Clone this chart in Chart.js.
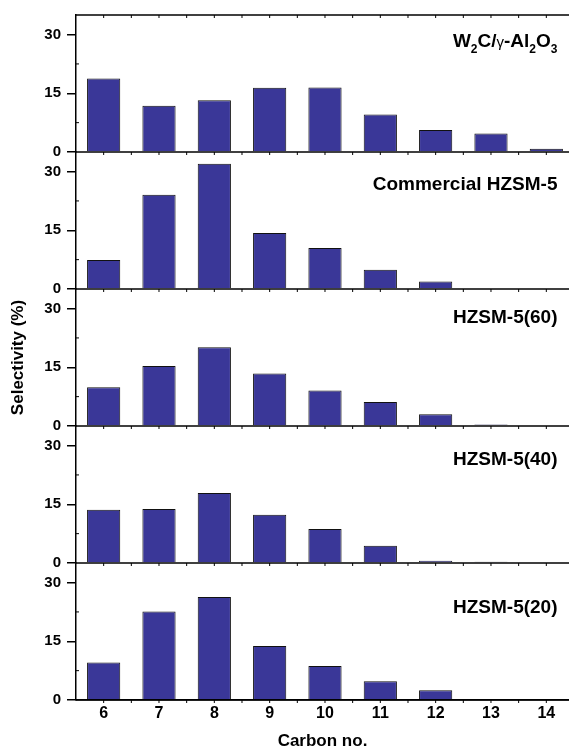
<!DOCTYPE html>
<html>
<head>
<meta charset="utf-8">
<script src="https://cdn.jsdelivr.net/npm/chart.js@4"></script>
<style>
    body { margin: 0; background: #fff; overflow: hidden; }
    #chart { display: block; }
</style>
</head>
<body>
<canvas id="chart" width="569" height="750"></canvas>
<script>
// 数据
const carbonNo = [6, 7, 8, 9, 10, 11, 12, 13, 14];
const yTicks = [0, 15, 30];
const yMinorTicks = [7.5, 22.5];

const panelNames = ['W_2C/γ-Al_2O_3', 'Commercial HZSM-5', 'HZSM-5(60)', 'HZSM-5(40)', 'HZSM-5(20)'];
const w2cAl2o3 = [18.8, 11.8, 13.2, 16.4, 16.5, 9.6, 5.6, 4.7, 0.85];
const commercialHzsm5 = [7.4, 24.1, 32.0, 14.3, 10.5, 4.9, 1.9, 0, 0];
const hzsm5_60 = [9.9, 15.3, 20.1, 13.4, 9.1, 6.1, 3.0, 0.4, 0];
const hzsm5_40 = [13.6, 13.8, 17.9, 12.3, 8.7, 4.4, 0.6, 0.35, 0];
const hzsm5_20 = [9.6, 22.6, 26.3, 13.8, 8.7, 4.8, 2.5, 0, 0];
const panelSeries = [w2cAl2o3, commercialHzsm5, hzsm5_60, hzsm5_40, hzsm5_20];

// 标签的位置（数据单位）
const labelBaseline = [26.8, 25.4, 26.4, 25.0, 22.2];

const FONT = '"Liberation Sans", Arial, sans-serif';
const BAR_COLOR = '#3a3798';

const panelIds = panelSeries.map((s, i) => 'y' + i);

// 每个面板一条 y 轴，叠放在一起（先定义的在下面，所以倒序）
const scales = {};
for (let i = panelIds.length - 1; i >= 0; i--) {
    scales[panelIds[i]] = {
        type: 'linear',
        position: 'left',
        stack: 'panels',
        stackWeight: 1,
        min: 0,
        max: 35,
        border: { color: '#000', width: 1.5 },
        grid: { drawOnChartArea: false, drawTicks: true, tickLength: 9, color: '#000', lineWidth: 1.5 },
        ticks: { stepSize: 15, color: '#000', padding: 6, font: { family: FONT, size: 15, weight: 'bold' } },
        afterBuildTicks: s => { s.ticks = yTicks.map(v => ({ value: v })); },
        afterFit: s => { s.width = 76; },
        title: {
            display: i === 2,
            text: 'Selectivity (%)',
            color: '#000',
            padding: { top: 10, bottom: 0 },
            font: { family: FONT, size: 17, weight: 'bold', lineHeight: 1 }
        }
    };
}
scales.x = {
    type: 'linear',
    position: 'bottom',
    offset: false,
    min: 5.5,
    max: 14.41,
    border: { color: '#000', width: 1.5 },
    grid: { drawOnChartArea: false, drawTicks: false, offset: false },
    ticks: { color: '#000', padding: 4, font: { family: FONT, size: 16, weight: 'bold' } },
    afterBuildTicks: s => { s.ticks = carbonNo.map(v => ({ value: v })); },
    afterFit: s => { s.height = 50; },
    title: {
        display: true,
        text: 'Carbon no.',
        color: '#000',
        padding: { top: 0, bottom: 0 },
        font: { family: FONT, size: 17, weight: 'bold', lineHeight: 1 }
    }
};

// 画框线、小刻度和面板标签
const panelFrame = {
    id: 'panelFrame',
    afterDatasetsDraw(chart) {
        const { ctx, chartArea: a } = chart;
        const xs = chart.scales.x;
        const halfSteps = [];
        for (let v = 6; v <= 14.4; v += 0.5) halfSteps.push(v);

        ctx.save();
        ctx.strokeStyle = '#000';
        ctx.lineWidth = 1.5;
        const line = (x1, y1, x2, y2) => {
            ctx.beginPath();
            ctx.moveTo(x1, y1);
            ctx.lineTo(x2, y2);
            ctx.stroke();
        };

        // 顶部边框
        const top = chart.scales[panelIds[0]].getPixelForValue(35);
        line(a.left - 0.75, top, a.right, top);
        ctx.lineWidth = 1;
        halfSteps.forEach(v => {
            const px = xs.getPixelForValue(v);
            line(px, top, px, top + 3);
        });

        panelIds.forEach(id => {
            const ys = chart.scales[id];
            const y0 = ys.getPixelForValue(0);
            ctx.lineWidth = 1.5;
            line(a.left, y0, a.right, y0);
            ctx.lineWidth = 1;
            yMinorTicks.forEach(v => {
                const py = ys.getPixelForValue(v);
                line(a.left, py, a.left + 3, py);
            });
            halfSteps.forEach(v => {
                const px = xs.getPixelForValue(v);
                line(px, y0, px, y0 + 3);
            });
        });

        // 面板标签（支持下标）
        panelNames.forEach((name, i) => {
            const ys = chart.scales[panelIds[i]];
            const base = ys.getPixelForValue(labelBaseline[i]);
            const parts = [];
            for (let k = 0; k < name.length; k++) {
                if (name[k] === '_') {
                    parts.push({ t: name[k + 1], sub: true });
                    k++;
                } else if (name[k] === 'γ') {
                    parts.push({ t: 'γ', greek: true });
                } else {
                    const last = parts[parts.length - 1];
                    if (last && !last.sub && !last.greek) last.t += name[k];
                    else parts.push({ t: name[k] });
                }
            }
            const fontOf = p => p.sub ? 'bold 12px ' + FONT : (p.greek ? '15px ' + FONT : 'bold 19px ' + FONT);
            let width = 0;
            parts.forEach(p => { ctx.font = fontOf(p); width += ctx.measureText(p.t).width; });
            let x = 557.5 - width;
            ctx.fillStyle = '#000';
            ctx.textBaseline = 'alphabetic';
            ctx.textAlign = 'left';
            parts.forEach(p => {
                ctx.font = fontOf(p);
                ctx.fillText(p.t, x, base + (p.sub ? 6 : 0));
                x += ctx.measureText(p.t).width;
            });
        });
        ctx.restore();
    }
};

const ctx = document.getElementById('chart').getContext('2d');
new Chart(ctx, {
    type: 'bar',
    data: {
        datasets: panelSeries.map((vals, i) => ({
            label: panelNames[i],
            yAxisID: panelIds[i],
            xAxisID: 'x',
            data: carbonNo.map((c, k) => ({ x: c, y: vals[k] })),
            backgroundColor: BAR_COLOR,
            borderColor: '#111',
            borderWidth: 1,
            grouped: false,
            barPercentage: 0.6,
            categoryPercentage: 1
        }))
    },
    options: {
        responsive: false,
        animation: false,
        layout: { padding: { top: 13, left: 0, right: 0, bottom: 0 } },
        plugins: { legend: { display: false }, tooltip: { enabled: false } },
        scales: scales
    },
    plugins: [panelFrame]
});
</script>
</body>
</html>
